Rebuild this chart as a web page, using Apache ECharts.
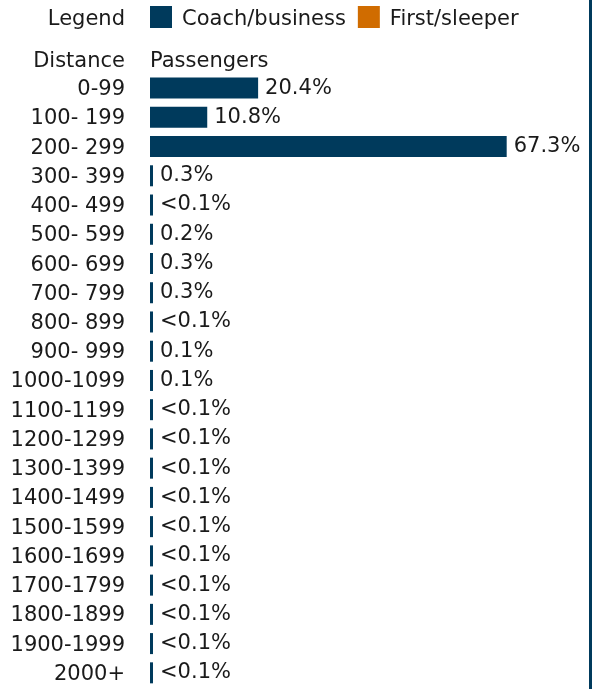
<!DOCTYPE html>
<html style="height: 100%;">
<head>
<meta charset="utf-8">
<title>Passengers by distance</title>
<script src="https://cdn.jsdelivr.net/npm/echarts@6/dist/echarts.min.js"></script>
<style>
    html, body { margin: 0; height: 100%; background: #fff; }
</style>
</head>
<body>
<div id="container" style="width: 601px; height: 689px;"></div>
<script>
// distance bands (miles)
var distances = ['0-99', '100- 199', '200- 299', '300- 399', '400- 499', '500- 599', '600- 699',
    '700- 799', '800- 899', '900- 999', '1000-1099', '1100-1199', '1200-1299', '1300-1399',
    '1400-1499', '1500-1599', '1600-1699', '1700-1799', '1800-1899', '1900-1999', '2000+'];
// share of passengers, %  (<0.1% drawn as 0.05)
var coachValues = [20.4, 10.8, 67.3, 0.3, 0.05, 0.2, 0.3, 0.3, 0.05, 0.1, 0.1, 0.05, 0.05, 0.05,
    0.05, 0.05, 0.05, 0.05, 0.05, 0.05, 0.05];
var coachLabels = ['20.4%', '10.8%', '67.3%', '0.3%', '<0.1%', '0.2%', '0.3%', '0.3%', '<0.1%', '0.1%',
    '0.1%', '<0.1%', '<0.1%', '<0.1%', '<0.1%', '<0.1%', '<0.1%', '<0.1%', '<0.1%', '<0.1%', '<0.1%'];
var seriesNames = ['Coach/business', 'First/sleeper'];

var FONT = 'DejaVu Sans';
var FS = 21;
var myChart = echarts.init(document.getElementById('container'));

var option = {
    animation: false,
    textStyle: { fontFamily: FONT },
    legend: {
        data: seriesNames,
        left: 150,
        top: 6,
        padding: 0,
        icon: 'rect',
        itemWidth: 22,
        itemHeight: 22,
        itemGap: 12,
        selectedMode: false,
        formatter: '{t|{name}}',
        textStyle: {
            fontFamily: FONT, fontSize: FS, color: '#1a1a1a',
            rich: { t: { fontFamily: FONT, fontSize: FS, color: '#1a1a1a', padding: [5, 0, 0, 5] } }
        }
    },
    graphic: [
        { type: 'text', right: 476, top: 9, style: { text: 'Legend', font: FS + 'px ' + FONT, fill: '#1a1a1a' } },
        { type: 'text', right: 476, top: 51, style: { text: 'Distance', font: FS + 'px ' + FONT, fill: '#1a1a1a' } },
        { type: 'text', left: 150, top: 51, style: { text: 'Passengers', font: FS + 'px ' + FONT, fill: '#1a1a1a' } },
        { type: 'rect', shape: { x: 589, y: 0, width: 3, height: 689 }, style: { fill: '#003a5c' } }
    ],
    grid: { left: 150, top: 75, width: 371, height: 617 },
    xAxis: {
        type: 'value', min: 0, max: 70, show: false
    },
    yAxis: {
        type: 'category',
        inverse: true,
        data: distances,
        axisLine: { show: false },
        axisTick: { show: false },
        axisLabel: { margin: 25, fontSize: FS, fontFamily: FONT, color: '#1a1a1a' }
    },
    series: [
        {
            name: seriesNames[0],
            type: 'bar',
            data: coachValues,
            barWidth: 21,
            barMinHeight: 3,
            itemStyle: { color: '#003a5c' },
            label: {
                show: true,
                position: 'right',
                distance: 7,
                fontSize: FS,
                fontFamily: FONT,
                color: '#1a1a1a',
                formatter: function (p) { return coachLabels[p.dataIndex]; }
            }
        },
        {
            name: seriesNames[1],
            type: 'bar',
            data: [],
            itemStyle: { color: '#d06c00' }
        }
    ]
};
myChart.setOption(option);
</script>
</body>
</html>
